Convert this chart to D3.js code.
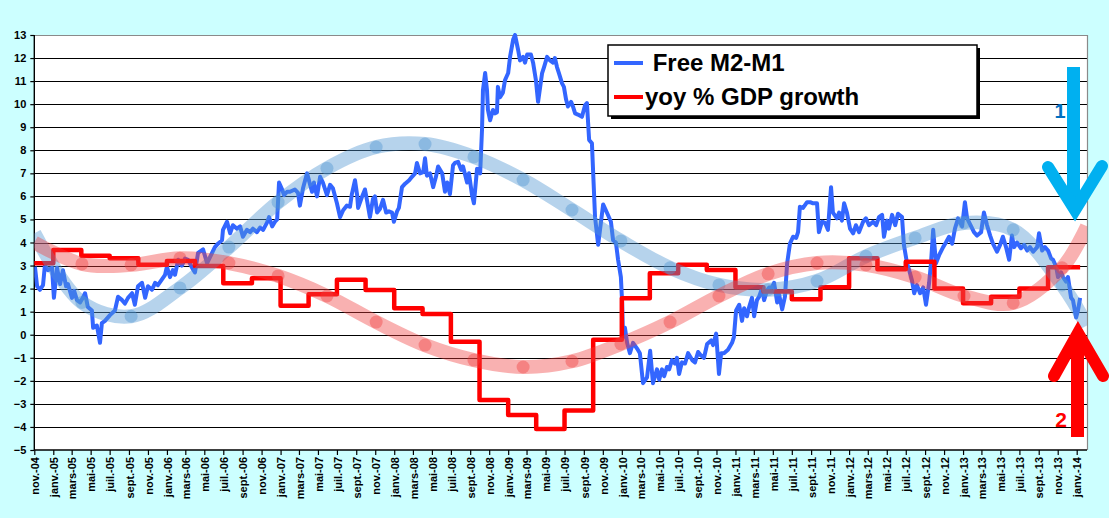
<!DOCTYPE html>
<html><head><meta charset="utf-8">
<script src="https://cdn.jsdelivr.net/npm/d3@7"></script>
<style>
html,body{margin:0;padding:0;background:#CCFFFF;}
svg{display:block;font-family:Arial,"Liberation Sans",sans-serif;}
</style></head>
<body><svg id="c" width="1109" height="518"></svg>
<script>
// ---- DATA ----
// Free M2-M1 (days since 2004-11-01, value %)
const m2Day = [2,9,18,28,34,44,57,63,73,83,92,102,108,121,128,137,147,156,163,172,185,189,201,211,217,227,243,259,269,282,291,301,314,323,333,346,356,365,378,388,397,410,420,426,436,445,452,462,474,484,494,507,516,526,542,555,571,580,590,603,606,619,629,638,651,661,670,683,693,702,715,725,735,747,754,764,773,780,786,796,802,812,821,837,847,853,863,876,886,892,898,908,918,927,940,950,959,972,982,992,1004,1014,1020,1030,1037,1040,1053,1062,1069,1078,1088,1094,1101,1110,1120,1130,1139,1149,1155,1165,1171,1181,1191,1204,1213,1223,1229,1239,1249,1255,1261,1271,1281,1290,1297,1310,1319,1326,1335,1345,1351,1361,1371,1377,1390,1396,1406,1412,1422,1432,1438,1441,1448,1454,1457,1464,1473,1480,1486,1489,1496,1505,1512,1522,1528,1538,1544,1554,1560,1570,1576,1583,1595,1602,1611,1618,1631,1637,1647,1656,1666,1672,1679,1685,1695,1701,1708,1714,1724,1730,1737,1746,1759,1769,1775,1782,1791,1801,1811,1827,1839,1852,1859,1868,1875,1884,1888,1891,1897,1904,1913,1923,1936,1945,1955,1968,1978,1987,2000,2007,2016,2023,2032,2039,2048,2058,2064,2071,2080,2090,2100,2113,2122,2132,2141,2151,2161,2174,2180,2190,2199,2206,2215,2228,2241,2247,2254,2264,2273,2280,2289,2296,2305,2312,2321,2328,2337,2344,2353,2360,2369,2376,2386,2392,2402,2411,2418,2427,2437,2447,2453,2459,2469,2482,2492,2501,2514,2520,2530,2540,2549,2559,2565,2578,2585,2594,2601,2610,2620,2630,2639,2649,2662,2671,2681,2694,2704,2713,2723,2729,2739,2745,2755,2765,2774,2787,2793,2803,2810,2819,2826,2835,2845,2855,2864,2874,2880,2887,2896,2906,2919,2928,2938,2948,2957,2967,2980,2989,2996,3009,3018,3028,3041,3050,3060,3070,3079,3092,3102,3111,3121,3131,3140,3147,3156,3169,3179,3189,3198,3208,3221,3227,3237,3246,3256,3266,3272,3282,3288,3298,3304,3314,3320,3330,3336,3346,3352,3359];
const m2Val = [2.95,2.1,1.95,2.15,3.0,2.8,2.9,1.6,2.9,2.2,2.8,2.1,2.2,1.6,1.9,1.5,1.4,1.6,1.8,1.2,1.05,0.3,0.4,-0.35,0.5,0.6,0.85,1.05,1.65,1.5,1.35,1.6,1.8,1.3,2.1,2.25,1.6,2.1,1.95,2.25,2.15,2.4,2.6,2.95,2.5,2.8,2.6,3.25,3.0,3.3,3.25,2.9,2.7,3.55,3.7,3.1,3.55,3.8,3.95,4.1,4.55,4.9,4.4,4.75,4.6,4.7,4.25,4.55,4.45,4.6,4.45,4.65,4.55,4.85,5.1,4.7,4.9,5.0,6.6,6.3,6.05,6.2,6.2,6.3,6.15,5.6,6.35,7.0,6.5,6.2,6.6,6.0,6.85,6.6,6.05,6.5,6.35,5.7,5.1,5.4,5.6,5.55,6.1,6.7,6.05,5.5,6.0,6.3,5.8,5.1,5.9,6.0,5.3,5.45,5.85,5.3,5.35,5.3,4.9,5.35,5.5,6.4,6.55,6.7,6.85,7.0,7.45,7.0,7.05,7.65,6.9,7.0,6.4,6.85,7.3,7.0,6.2,6.6,6.1,7.35,7.45,7.5,7.15,7.3,6.6,7.0,6.05,5.7,7.2,7.0,8.9,10.6,11.35,10.6,9.75,9.3,9.75,9.6,9.65,10.75,10.3,10.5,11.05,11.35,12.05,12.8,13.0,12.35,11.9,12.05,11.8,12.15,12.15,11.8,11.05,10.1,11.35,11.6,12.05,11.9,11.8,12.0,11.6,11.35,10.9,10.75,10.2,9.9,10.1,9.9,9.6,9.55,9.45,9.95,10.05,8.45,8.3,5.1,3.9,5.65,5.3,4.9,4.1,4.0,3.25,2.5,1.4,-0.1,0.3,-0.35,-0.8,-0.35,-0.6,-0.8,-2.1,-1.85,-0.7,-2.1,-1.5,-1.95,-1.5,-1.8,-1.4,-1.5,-1.1,-1.25,-1.0,-1.7,-1.2,-1.25,-0.8,-1.1,-1.2,-0.75,-0.9,-1.0,-0.4,-0.25,-0.45,0.05,-1.7,-0.8,-0.8,-0.65,-0.35,-0.1,1.05,1.3,0.6,1.15,0.8,1.2,1.6,0.8,1.5,1.65,2.0,1.5,1.9,2.05,2.05,2.25,1.4,1.75,1.1,1.65,3.1,3.95,4.25,4.2,4.45,5.55,5.5,5.75,5.75,5.7,5.7,4.45,4.9,4.85,4.55,6.4,5.3,5.05,5.3,4.95,5.7,5.3,4.6,4.4,4.75,4.45,4.9,5.05,4.75,4.9,4.75,5.1,5.2,4.25,4.95,4.6,5.2,4.75,5.25,5.1,3.9,3.1,2.8,2.35,1.8,2.15,1.8,2.05,1.3,2.25,3.1,4.55,3.1,3.45,3.8,4.0,4.25,3.95,4.6,5.05,4.7,5.75,5.05,4.7,4.45,4.3,4.45,5.3,4.75,4.3,3.95,3.6,3.9,4.25,3.8,3.25,4.3,3.8,4.0,3.75,3.9,3.65,3.8,3.6,3.8,4.4,3.65,3.8,3.65,3.3,3.25,2.95,2.5,2.7,2.5,2.3,2.5,1.6,1.5,0.75,1.05,1.6];

// yoy % GDP growth, quarterly (quarter start, value)
const gdpQuarter = ["2004-10","2005-01","2005-04","2005-07","2005-10","2006-01","2006-04","2006-07","2006-10","2007-01","2007-04","2007-07","2007-10","2008-01","2008-04","2008-07","2008-10","2009-01","2009-04","2009-07","2009-10","2010-01","2010-04","2010-07","2010-10","2011-01","2011-04","2011-07","2011-10","2012-01","2012-04","2012-07","2012-10","2013-01","2013-04","2013-07","2013-10"];
const gdpVal = [3.1,3.68,3.42,3.32,3.03,3.2,2.98,2.23,2.45,1.26,1.76,2.38,1.94,1.15,0.9,-0.3,-2.83,-3.48,-4.09,-3.29,-0.22,1.58,2.67,3.03,2.81,2.06,1.87,1.54,2.06,3.32,2.84,3.17,2.01,1.36,1.65,2.01,2.93];

// hand-drawn cycle bands (days since 2004-11-01)
const bandDay = [0,153,311,468,625,783,940,1098,1255,1412,1570,1727,1884,2042,2199,2357,2514,2671,2829,2986,3144,3301,3381];
const blueBand = [4.4,1.4,0.8,2.03,3.8,5.75,7.22,8.14,8.27,7.71,6.71,5.41,4.07,2.9,2.16,1.95,2.33,3.4,4.2,4.85,4.55,2.16,0.4];
const redBand = [4.0,3.07,3.03,3.32,3.11,2.55,1.68,0.55,-0.45,-1.1,-1.4,-1.15,-0.4,0.55,1.68,2.64,3.11,3.03,2.5,1.68,1.38,2.9,4.7];

const yTicks = [-5,-4,-3,-2,-1,0,1,2,3,4,5,6,7,8,9,10,11,12,13];
const frMonths = ["janv.","févr.","mars","avr.","mai","juin","juil.","août","sept.","oct.","nov.","déc."];
const legendLabels = [" Free M2-M1","yoy % GDP growth"];
const arrowLabels = ["1","2"];

// ---- CHART ----
const svg = d3.select("#c");
const L = 34.3, R = 1087, T = 35, B = 450;
const t0 = Date.UTC(2004,10,1);
const dayToDate = d => new Date(t0 + d*864e5);
const x = d3.scaleUtc().domain([new Date(t0), new Date(Date.UTC(2014,0,1))]).range([34.3, 1076.7]);
const y = d3.scaleLinear().domain([-5,13]).range([B,T]);

svg.append("defs").append("clipPath").attr("id","pc")
  .append("rect").attr("x",L).attr("y",T-2).attr("width",R-L).attr("height",B-T+2);

svg.append("rect").attr("x",L).attr("y",T).attr("width",R-L).attr("height",B-T).attr("fill","#fff");

// gridlines
svg.append("g").selectAll("line").data(yTicks.filter(v=>v>-5&&v<13)).join("line")
  .attr("x1",L).attr("x2",R).attr("y1",d=>Math.round(y(d))+0.5).attr("y2",d=>Math.round(y(d))+0.5)
  .attr("stroke","#000").attr("stroke-width",1.2);
// top & right border
svg.append("path").attr("d",`M${L},${T+0.5}H${R+0.5}V${B}`).attr("fill","none").attr("stroke","#8a8a8a").attr("stroke-width",1.2);

// y axis
const ya = svg.append("g").attr("transform",`translate(${L},0)`)
  .call(d3.axisLeft(y).tickValues(yTicks).tickSize(4).tickPadding(4).tickFormat(d3.format("d")));
ya.select(".domain").remove();
ya.selectAll("line").attr("stroke","#000").attr("stroke-width",1.2);
ya.selectAll("text").attr("font-size",11).attr("font-weight","bold").attr("fill","#000");

// x axis
const months = d3.utcMonth.every(2).range(new Date(t0), new Date(Date.UTC(2014,0,2)));
const xa = svg.append("g").attr("transform",`translate(0,${B})`)
  .call(d3.axisBottom(x).tickValues(months).tickSize(5).tickSizeOuter(0)
    .tickFormat(d => frMonths[d.getUTCMonth()] + "-" + String(d.getUTCFullYear()).slice(2)));
xa.select(".domain").remove();
xa.selectAll("line").attr("stroke","#000").attr("stroke-width",1.2);
xa.selectAll("text").attr("font-size",11).attr("font-weight","bold").attr("fill","#000")
  .attr("transform","rotate(-90)").attr("text-anchor","end").attr("x",-7).attr("y",0).attr("dy","0.38em");

// axis lines
svg.append("line").attr("x1",L).attr("x2",L).attr("y1",T).attr("y2",B).attr("stroke","#000").attr("stroke-width",1.4);
svg.append("line").attr("x1",L).attr("x2",R).attr("y1",B).attr("y2",B).attr("stroke","#000").attr("stroke-width",1.4);

const plot = svg.append("g").attr("clip-path","url(#pc)");

// Free M2-M1
const m2 = m2Day.map((d,i)=>({date:dayToDate(d), v:m2Val[i]}));
plot.append("path").datum(m2)
  .attr("d", d3.line().x(d=>x(d.date)).y(d=>y(d.v)))
  .attr("fill","none").attr("stroke","#3366FF").attr("stroke-width",4).attr("stroke-linejoin","round");

// GDP step
const gdp = gdpQuarter.map((q,i)=>({date:new Date(q+"-01T00:00:00Z"), v:gdpVal[i]}));
gdp.push({date:dayToDate(m2Day[m2Day.length-1]), v:gdpVal[gdpVal.length-1]});
plot.append("path").datum(gdp)
  .attr("d", d3.line().curve(d3.curveStepAfter).x(d=>x(d.date)).y(d=>y(d.v)))
  .attr("fill","none").attr("stroke","#FF0000").attr("stroke-width",4.5).attr("stroke-linejoin","round");

// bands
function band(vals, color, op){
  const pts = bandDay.map((d,i)=>({date:dayToDate(d), v:vals[i]}));
  plot.append("path").datum(pts)
    .attr("d", d3.line().curve(d3.curveCatmullRom.alpha(0.5)).x(d=>x(d.date)).y(d=>y(d.v)))
    .attr("fill","none").attr("stroke",color).attr("stroke-opacity",op).attr("stroke-width",14);
  plot.append("g").selectAll("circle").data(pts.slice(1,-1)).join("circle")
    .attr("cx",d=>x(d.date)).attr("cy",d=>y(d.v)).attr("r",6.5)
    .attr("fill",color).attr("fill-opacity",op);
}
band(blueBand,"rgb(80,150,210)",0.42);
band(redBand,"rgb(240,60,60)",0.4);

// legend
const lg = svg.append("g");
lg.append("rect").attr("x",611).attr("y",48).attr("width",369).attr("height",71).attr("fill","#000");
lg.append("rect").attr("x",608).attr("y",45).attr("width",369).attr("height",71).attr("fill","#fff").attr("stroke","#000").attr("stroke-width",1.5);
lg.append("line").attr("x1",614).attr("x2",643).attr("y1",63).attr("y2",63).attr("stroke","#3366FF").attr("stroke-width",4);
lg.append("line").attr("x1",614).attr("x2",643).attr("y1",97).attr("y2",97).attr("stroke","#FF0000").attr("stroke-width",4);
lg.append("text").attr("x",646).attr("y",71).attr("font-size",24).attr("font-weight","bold").attr("xml:space","preserve").style("white-space","pre").text(legendLabels[0]);
lg.append("text").attr("x",645).attr("y",105).attr("font-size",24).attr("font-weight","bold").text(legendLabels[1]);

// arrows
const ar = svg.append("g");
ar.append("line").attr("x1",1073.5).attr("x2",1073.5).attr("y1",67).attr("y2",205).attr("stroke","#00B0F0").attr("stroke-width",13);
ar.append("polyline").attr("points","1048,167 1075,210 1102,166").attr("fill","none").attr("stroke","#00B0F0").attr("stroke-width",12).attr("stroke-linecap","round").attr("stroke-linejoin","miter");
ar.append("text").attr("x",1060).attr("y",118).attr("text-anchor","middle").attr("font-size",20).attr("font-weight","bold").attr("fill","#0070C0").text(arrowLabels[0]);

ar.append("line").attr("x1",1077.5).attr("x2",1077.5).attr("y1",437).attr("y2",340).attr("stroke","#FF0000").attr("stroke-width",13);
ar.append("polyline").attr("points","1054,376 1078,333 1103,376").attr("fill","none").attr("stroke","#FF0000").attr("stroke-width",12).attr("stroke-linecap","round").attr("stroke-linejoin","miter");
ar.append("text").attr("x",1061).attr("y",427).attr("text-anchor","middle").attr("font-size",21).attr("font-weight","bold").attr("fill","#FF0000").text(arrowLabels[1]);
</script>
</body></html>
